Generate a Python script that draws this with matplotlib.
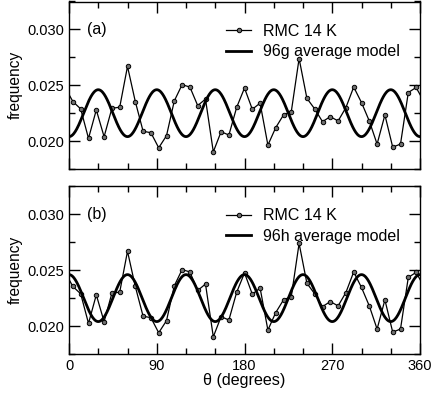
import numpy as np
import matplotlib
matplotlib.use("Agg")
import matplotlib.pyplot as plt
from matplotlib.ticker import MultipleLocator

plt.rcParams['font.family'] = ['Liberation Sans', 'DejaVu Sans']

# RMC 14 K angular distribution (bin centres every 8 degrees)
theta = np.arange(4, 360, 8)
rmc = [0.02354, 0.02288, 0.02024, 0.02279, 0.02039, 0.02294, 0.02303, 0.02669,
       0.02354, 0.02088, 0.02075, 0.01940, 0.02048, 0.02360, 0.02505, 0.02484,
       0.02318, 0.02376, 0.01904, 0.02084, 0.02054, 0.02303, 0.02475, 0.02285,
       0.02340, 0.01964, 0.02120, 0.02234, 0.02264, 0.02739, 0.02383, 0.02288,
       0.02174, 0.02219, 0.02180, 0.02300, 0.02484, 0.02345, 0.02180, 0.01973,
       0.02234, 0.01946, 0.01973, 0.02435, 0.02480]

# average-model curves: mean + amplitude * cos(6 theta), sign per site
model_mean = 0.0225
model_amp = 0.0021
model_sign = {"a": -1.0, "b": 1.0}
model_labels = {"a": "96g average model", "b": "96h average model"}
rmc_label = "RMC 14 K"
panel_tags = ["a", "b"]

xticks = [0, 90, 180, 270, 360]

# periodic wrap for the edges
rmc_arr = np.array(rmc)
th_ext = np.concatenate([[theta[-1] - 360], theta, [theta[0] + 360]])
rmc_ext = np.concatenate([[rmc_arr[-1]], rmc_arr, [rmc_arr[0]]])
th_fine = np.linspace(0, 360, 721)

fig = plt.figure(figsize=(4.36, 3.95), dpi=100)
left, right = 69 / 436, 420 / 436
boxes = {"a": (1 - 169 / 395, 1 - 1.5 / 395), "b": (1 - 354 / 395, 1 - 186.3 / 395)}

for tag in panel_tags:
    b0, b1 = boxes[tag]
    ax = fig.add_axes([left, b0, right - left, b1 - b0])
    ax.plot(th_ext, rmc_ext, '-', color='black', lw=0.9, marker='o', ms=3.2,
            mfc='#6f6f6f', mec='black', mew=0.7, label=rmc_label, clip_on=True)
    model = model_mean + model_sign[tag] * model_amp * np.cos(np.deg2rad(6 * th_fine))
    ax.plot(th_fine, model, '-', color='black', lw=2.0, label=model_labels[tag])
    ax.set_xlim(0, 360)
    ax.set_ylim(0.0175, 0.0325)
    ax.set_xticks(xticks)
    ax.xaxis.set_minor_locator(MultipleLocator(30))
    ax.yaxis.set_major_locator(MultipleLocator(0.005))
    ax.yaxis.set_minor_locator(MultipleLocator(0.0025))
    ax.yaxis.set_major_formatter(matplotlib.ticker.FormatStrFormatter('%.3f'))
    ax.tick_params(which='both', direction='in', top=True, right=True, labelsize=10.5)
    ax.tick_params(which='major', length=8, width=1)
    ax.tick_params(which='minor', length=4, width=1)
    for s in ax.spines.values():
        s.set_linewidth(1.0)
    ax.set_ylabel('frequency', fontsize=11.2, labelpad=3)
    ax.text(0.05, 0.833, f'({tag})', transform=ax.transAxes, fontsize=11.5, va='center')
    ax.legend(loc='upper right', bbox_to_anchor=(0.969, 0.925), frameon=False,
              fontsize=11.5, handlelength=1.6, handletextpad=0.7,
              labelspacing=0.35, borderaxespad=0.2)
    if tag == "a":
        ax.tick_params(labelbottom=False)
    else:
        ax.set_xlabel('θ (degrees)', fontsize=11.6, labelpad=0)

fig.savefig('out.png', dpi=100)
